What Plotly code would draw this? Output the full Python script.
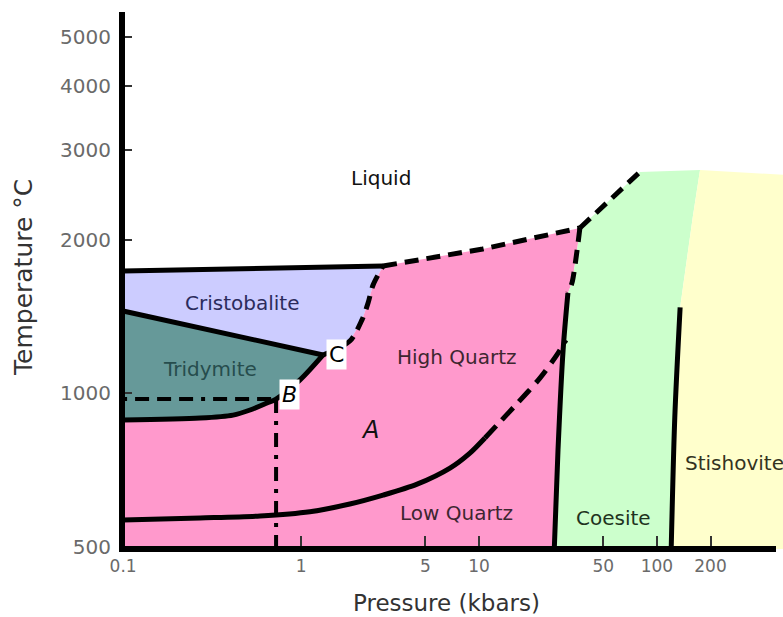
import numpy as np
import plotly.graph_objects as go

# ---------------- data (pressure in kbar, temperature in °C) ----------------
# Liquidus segments
liq_crist_P = [0.1, 2.89]
liq_crist_T = [1738, 1778]
liq_hq_P = [2.89, 10.5, 36.9]
liq_hq_T = [1778, 1920, 2111]
liq_coes_P = [36.9, 80.2]
liq_coes_T = [2111, 2718]
coes_top_P = [80.2, 174.6]
coes_top_T = [2718, 2744]
stish_top_P = [174.6, 520]
stish_top_T = [2744, 2682]

# Cristobalite / Tridymite
crist_trid_P = [0.1, 1.33]
crist_trid_T = [1451, 1190]
# Cristobalite / High Quartz (dashed, from C upward)
crist_hq_P = [1.33, 1.88, 2.20, 2.38, 2.54, 2.89]
crist_hq_T = [1190, 1267, 1394, 1504, 1632, 1778]
# Tridymite / Quartz (solid, from 0.1 kbar through B to C)
trid_q_P = [0.1, 0.271, 0.415, 0.517, 0.644, 0.724, 0.987, 1.33]
trid_q_T = [887, 895, 907, 928, 958, 975, 1063, 1190]
B_P, B_T = 0.724, 975

# Quartz / Coesite
qc_dash_P = [36.9, 35.6, 33.3, 31.6]
qc_dash_T = [2111, 1911, 1647, 1574]
qc_solid_P = [31.6, 29.7, 27.8, 26.4]
qc_solid_T = [1574, 1217, 775, 480]

# Low / High quartz
lq_solid_P = [0.1, 0.271, 0.589, 1.12, 1.88, 2.89, 4.49, 6.87, 8.89, 10.8]
lq_solid_T = [565, 570, 575, 586, 607, 632, 664, 714, 764, 818]
lq_dash_P = [10.8, 13.1, 16.3, 22.0, 27.4, 30.8]
lq_dash_T = [818, 879, 954, 1072, 1190, 1273]

# Coesite / Stishovite
cs_upper_P = [174.6, 159, 135]
cs_upper_T = [2744, 2219, 1475]
cs_solid_P = [135, 126, 120]
cs_solid_T = [1475, 899, 480]

# Isotherm / isobar through B
iso_T_P = [0.1, B_P]
iso_T_T = [B_T, B_T]
iso_P_P = [B_P, B_P]
iso_P_T = [B_T, 480]

BOTTOM_T = 480

x_ticks = [0.1, 1, 5, 10, 50, 100, 200]
x_ticktext = ["0.1", "1", "5", "10", "50", "100", "200"]
y_ticks = [500, 1000, 2000, 3000, 4000, 5000]
y_ticktext = ["500", "1000", "2000", "3000", "4000", "5000"]

COL_CRIST = "#ccccff"
COL_TRID = "#669999"
COL_QUARTZ = "#ff99cc"
COL_COES = "#ccffcc"
COL_STISH = "#ffffcc"

FONT = "DejaVu Sans"

fig = go.Figure()

def poly(P, T, color):
    fig.add_trace(go.Scatter(x=P, y=T, mode="lines", fill="toself", fillcolor=color,
                             line=dict(width=0, color=color), hoverinfo="skip", showlegend=False))

def line(P, T, width=5, dash="solid", smooth=False):
    ln = dict(width=width, color="black", dash=dash)
    if smooth:
        ln.update(shape="spline", smoothing=0.8)
    fig.add_trace(go.Scatter(x=P, y=T, mode="lines", line=ln,
                             hoverinfo="skip", showlegend=False))

# regions
poly(liq_crist_P + crist_hq_P[::-1] + crist_trid_P[::-1],
     liq_crist_T + crist_hq_T[::-1] + crist_trid_T[::-1], COL_CRIST)
poly(crist_trid_P + trid_q_P[::-1], crist_trid_T + trid_q_T[::-1], COL_TRID)
poly(trid_q_P + crist_hq_P + liq_hq_P + qc_dash_P + qc_solid_P + [0.098],
     trid_q_T + crist_hq_T + liq_hq_T + qc_dash_T + qc_solid_T + [BOTTOM_T], COL_QUARTZ)
poly(liq_coes_P + coes_top_P + cs_upper_P + cs_solid_P + qc_solid_P[::-1] + qc_dash_P[::-1],
     liq_coes_T + coes_top_T + cs_upper_T + cs_solid_T + qc_solid_T[::-1] + qc_dash_T[::-1], COL_COES)
poly(stish_top_P + [stish_top_P[-1]] + cs_solid_P[::-1] + cs_upper_P[::-1],
     stish_top_T + [BOTTOM_T] + cs_solid_T[::-1] + cs_upper_T[::-1], COL_STISH)

# boundaries
DASH = "14px,8px"
line(liq_crist_P, liq_crist_T, 5)
line(liq_hq_P, liq_hq_T, 5, DASH)
line(liq_coes_P, liq_coes_T, 5, DASH)
line(crist_trid_P, crist_trid_T, 5)
line(crist_hq_P, crist_hq_T, 5, DASH, smooth=True)
line(trid_q_P, trid_q_T, 5, smooth=True)
line(qc_dash_P, qc_dash_T, 5, DASH, smooth=True)
line(qc_solid_P, qc_solid_T, 5, smooth=True)
line(lq_solid_P, lq_solid_T, 5, smooth=True)
line(lq_dash_P, lq_dash_T, 5, "16px,9px", smooth=True)
line(cs_solid_P, cs_solid_T, 5, smooth=True)
line(iso_T_P, iso_T_T, 4, "4px,8px,14px,8px,14px,8px,14px,8px")
line(iso_P_P, iso_P_T, 4, "14px,8px,4px,8px")

# ---------------- layout ----------------
L, R, TOP, BOT = 122, 783, 12, 549
def px(x):
    return (x - L) / (R - L)
def py(y):
    return (BOT - y) / (BOT - TOP)

def label(x, y, text, size=20, color="black", xanchor="center", **kw):
    fig.add_annotation(x=px(x), y=py(y), xref="paper", yref="paper", text=text,
                       showarrow=False, xanchor=xanchor, yanchor="middle",
                       font=dict(family=FONT, size=size, color=color), **kw)

label(381, 178, "Liquid", 20, "#111111")
label(242, 303, "Cristobalite", 20, "#2b2b5c")
label(210, 369, "Tridymite", 20, "#264d4d")
label(457, 357, "High Quartz", 20, "#3d2630")
label(370, 430, "<i>A</i>", 24, "#111111")
label(457, 513, "Low Quartz", 20, "#3d2630")
label(613, 518, "Coesite", 20, "#1f3320")
label(683, 463, "Stishovite", 20, "#33331f", xanchor="left")
label(289, 394, "<i>B</i>", 22, "black", bgcolor="white", borderpad=2)
label(336, 354, "C", 22, "black", bgcolor="white", borderpad=2)
label(23, 278, "Temperature °C", 25, "#333333", textangle=-90)
label(446, 603, "Pressure (kbars)", 23, "#333333")

# axis lines
fig.add_shape(type="line", xref="paper", yref="paper", x0=0, x1=0, y0=-3 / (BOT - TOP), y1=1,
              line=dict(color="black", width=6))
fig.add_shape(type="line", xref="paper", yref="paper", x0=-3 / (R - L), x1=px(776), y0=0, y1=0,
              line=dict(color="black", width=6))

fig.update_layout(
    width=783, height=617,
    margin=dict(l=L, r=783 - R, t=TOP, b=617 - BOT),
    paper_bgcolor="white", plot_bgcolor="white",
    showlegend=False,
    xaxis=dict(type="log", range=[np.log10(0.0986), np.log10(511)],
               tickvals=x_ticks, ticktext=x_ticktext,
               ticks="inside", ticklen=13, tickwidth=1.5, tickcolor="#333333",
               ticklabelstandoff=5,
               showgrid=False, zeroline=False, showline=False,
               tickfont=dict(family=FONT, size=17, color="#6a6a6a")),
    yaxis=dict(type="log", range=[np.log10(495.5), np.log10(5597)],
               tickvals=y_ticks, ticktext=y_ticktext,
               ticks="inside", ticklen=10, tickwidth=1.5, tickcolor="#333333",
               ticklabelstandoff=10,
               showgrid=False, zeroline=False, showline=False,
               tickfont=dict(family=FONT, size=20, color="#6a6a6a")),
)

fig.write_html("out.html", config={"displayModeBar": False},
               post_script="document.body.style.margin='0';document.body.style.overflow='hidden';")
